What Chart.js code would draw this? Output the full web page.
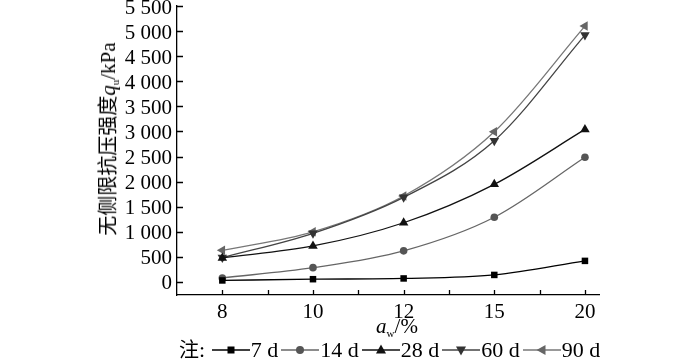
<!DOCTYPE html>
<html>
<head>
<meta charset="utf-8">
<script src="https://cdn.jsdelivr.net/npm/chart.js@4"></script>
<style>
  html, body { margin:0; padding:0; background:#fff; }
  #wrap { position:relative; width:700px; height:362px; font-family:"Liberation Serif","Noto Sans CJK SC",serif; color:#000; }
  #c { position:absolute; left:0; top:0; }
  #ytitle { position:absolute; left:108px; top:139px; transform:translate(-50%,-50%) rotate(-90deg); white-space:nowrap; font-size:21px; line-height:1; }
  #xtitle { position:absolute; left:397px; top:316px; transform:translateX(-50%); white-space:nowrap; font-size:21px; line-height:1; }
  sub { font-size:11px; vertical-align:-4px; line-height:0; }
  #legend { position:absolute; left:179px; top:339px; display:flex; align-items:center; white-space:nowrap; font-size:22px; line-height:1; }
  #legend svg { display:block; margin:0 1px; }
  .cjk { font-family:"Noto Sans CJK SC",sans-serif; font-size:20px; }
</style>
</head>
<body>
<div id="wrap">
  <canvas id="c" width="700" height="362"></canvas>
  <div id="ytitle"><span class="cjk">无侧限抗压强度</span><i>q</i><sub>u</sub>/kPa</div>
  <div id="xtitle"><i>a</i><sub>w</sub>/%</div>
  <div id="legend"></div>
</div>
<script>
// ---- data ----
const categories = ["8", "10", "12", "15", "20"];
const seriesNames = ["7 d", "14 d", "28 d", "60 d", "90 d"];
const s7  = [30, 55, 70, 140, 420];
const s14 = [80, 285, 620, 1290, 2485];
const s28 = [478, 717, 1180, 1946, 3040];
const s60 = [485, 970, 1687, 2815, 4920];
const s90 = [630, 1000, 1713, 2994, 5100];
const yTickValues = [0, 500, 1000, 1500, 2000, 2500, 3000, 3500, 4000, 4500, 5000, 5500];

// ---- styling ----
const styles = [
  {line:"#000", fill:"#000", pt:"rect", r:4.6, rot:0},
  {line:"#666", fill:"#555", pt:"circle", r:3.8, rot:0},
  {line:"#111", fill:"#111", pt:"triangle", r:5.5, rot:0},
  {line:"#444", fill:"#333", pt:"triangle", r:5.5, rot:180},
  {line:"#777", fill:"#666", pt:"triangle", r:5.5, rot:-90}
];
const allSeries = [s7, s14, s28, s60, s90];

const datasets = allSeries.map((s, i) => ({
  label: seriesNames[i],
  data: s.map((v, j) => ({x: j, y: v})),
  borderColor: styles[i].line,
  backgroundColor: styles[i].fill,
  borderWidth: 1.3,
  pointStyle: styles[i].pt,
  pointRadius: styles[i].r,
  pointRotation: styles[i].rot,
  pointBorderWidth: 0,
  pointBackgroundColor: styles[i].fill,
  cubicInterpolationMode: "monotone",
  fill: false
}));

const fmt = v => {
  const s = String(v);
  return s.length > 3 ? s.slice(0, s.length - 3) + " " + s.slice(-3) : s;
};

const inwardTicks = {
  id: "inwardTicks",
  afterDraw(chart) {
    const ctx = chart.ctx, xs = chart.scales.x, ys = chart.scales.y, a = chart.chartArea;
    ctx.save();
    ctx.strokeStyle = "#000";
    ctx.lineWidth = 1.3;
    ctx.beginPath();
    xs.ticks.forEach(t => {
      const px = Math.round(xs.getPixelForValue(t.value)) + 0.5;
      ctx.moveTo(px, a.bottom);
      ctx.lineTo(px, a.bottom - 5);
    });
    ys.ticks.forEach(t => {
      const py = Math.round(ys.getPixelForValue(t.value)) + 0.5;
      ctx.moveTo(a.left, py);
      ctx.lineTo(a.left + 6, py);
    });
    ctx.stroke();
    ctx.restore();
  }
};

new Chart(document.getElementById("c"), {
  type: "line",
  data: { datasets },
  options: {
    responsive: false,
    animation: false,
    layout: { padding: { top: 6, right: 101, left: 0, bottom: 0 } },
    plugins: { legend: { display: false }, tooltip: { enabled: false } },
    scales: {
      x: {
        type: "linear",
        min: -0.5,
        max: 4.155,
        afterBuildTicks(scale) {
          const t = [];
          for (let v = 0; v <= categories.length - 1; v += 0.5) t.push({value: v});
          scale.ticks = t;
        },
        afterFit(scale) { scale.height = 67; scale.paddingLeft = 0; scale.paddingRight = 0; },
        grid: { display: false, drawTicks: false },
        border: { display: true, color: "#000", width: 1.3 },
        ticks: {
          autoSkip: false,
          maxRotation: 0,
          padding: 5,
          color: "#000",
          font: { family: "Liberation Serif", size: 21 },
          callback: v => Number.isInteger(v) ? categories[v] : ""
        }
      },
      y: {
        min: -260,
        max: 5500,
        afterBuildTicks(scale) { scale.ticks = yTickValues.map(v => ({value: v})); },
        afterFit(scale) { scale.width = 177; scale.paddingTop = 0; scale.paddingBottom = 0; },
        grid: { display: false, drawTicks: false },
        border: { display: true, color: "#000", width: 1.3 },
        ticks: {
          autoSkip: false,
          padding: 5,
          labelOffset: 2,
          color: "#000",
          font: { family: "Liberation Serif", size: 21 },
          callback: v => fmt(v)
        }
      }
    }
  },
  plugins: [inwardTicks]
});

// ---- legend ----
const lg = document.getElementById("legend");
const note = document.createElement("span");
note.innerHTML = '<span class="cjk">注</span>:&nbsp;';
lg.appendChild(note);
const NS = "http://www.w3.org/2000/svg";
seriesNames.forEach((name, i) => {
  const st = styles[i];
  const svg = document.createElementNS(NS, "svg");
  svg.setAttribute("width", "38"); svg.setAttribute("height", "14");
  const ln = document.createElementNS(NS, "line");
  ln.setAttribute("x1", "0"); ln.setAttribute("x2", "38");
  ln.setAttribute("y1", "7"); ln.setAttribute("y2", "7");
  ln.setAttribute("stroke", st.line); ln.setAttribute("stroke-width", "1.4");
  svg.appendChild(ln);
  let m;
  if (st.pt === "rect") {
    m = document.createElementNS(NS, "rect");
    m.setAttribute("x", "15.5"); m.setAttribute("y", "3.5"); m.setAttribute("width", "7"); m.setAttribute("height", "7");
  } else if (st.pt === "circle") {
    m = document.createElementNS(NS, "circle");
    m.setAttribute("cx", "19"); m.setAttribute("cy", "7"); m.setAttribute("r", "4");
  } else {
    m = document.createElementNS(NS, "polygon");
    m.setAttribute("points", "19,1.5 24,10.5 14,10.5");
    m.setAttribute("transform", "rotate(" + st.rot + " 19 7)");
  }
  m.setAttribute("fill", st.fill);
  svg.appendChild(m);
  lg.appendChild(svg);
  const tx = document.createElement("span");
  tx.textContent = name;
  tx.style.marginRight = "2px";
  lg.appendChild(tx);
});
</script>
</body>
</html>
